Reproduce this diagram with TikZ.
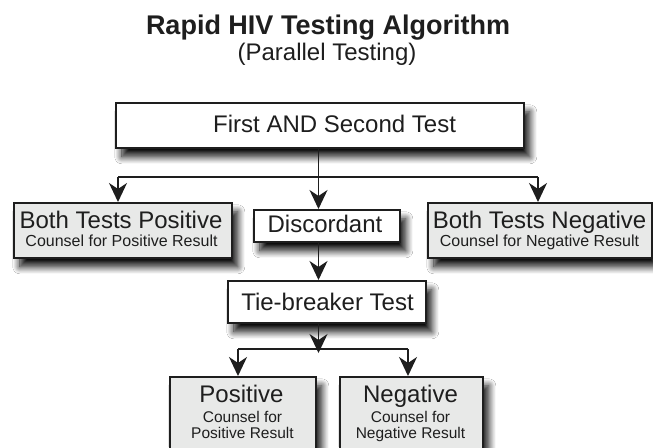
\documentclass[tikz,border=0pt]{standalone}
\usepackage{fontspec}
\setmainfont{Liberation Sans}
\usetikzlibrary{arrows.meta,shadows.blur}
\definecolor{ink}{HTML}{1E1E1E}
\definecolor{boxgray}{HTML}{E8E9E8}
\tikzset{
  boxw/.style={draw=ink, line width=1.6pt, fill=white, inner sep=0pt, anchor=north west,
    blur shadow={shadow xshift=6pt, shadow yshift=-9pt, shadow blur radius=7pt, shadow blur steps=14, shadow opacity=95}},
  boxg/.style={boxw, fill=boxgray},
  conn/.style={draw=ink, line width=1.3pt},
  arr/.style={conn, -{Stealth[length=19pt,width=18pt,inset=6pt]}},
  txt/.style={text=ink, inner sep=0pt, anchor=base},
  big/.style={txt, font=\fontsize{24}{28}\selectfont},
  small/.style={txt, font=\fontsize{16}{18}\selectfont},
  smaller/.style={txt, font=\fontsize{15.5}{18}\selectfont},
}
\begin{document}
\begin{tikzpicture}[x=1pt,y=-1pt]
\useasboundingbox[fill=white] (0,0) rectangle (653,447);
% titles
\node[txt, font=\fontsize{27}{30}\selectfont\bfseries] (title) at (328,34) {Rapid HIV Testing Algorithm};
\node[txt, font=\fontsize{24}{28}\selectfont] (subtitle) at (327,60) {(Parallel Testing)};
% boxes
\node[boxw, minimum width=408pt, minimum height=45pt] (top) at (115,102) {};
\node[boxg, minimum width=218pt, minimum height=55pt] (bpos) at (13,202) {};
\node[boxw, minimum width=146pt, minimum height=32pt] (disc) at (253,209) {};
\node[boxg, minimum width=224pt, minimum height=55pt] (bneg) at (427,202) {};
\node[boxw, minimum width=198pt, minimum height=42pt] (tie) at (227,280) {};
\node[boxg, minimum width=146pt, minimum height=80pt] (rpos) at (169,376) {};
\node[boxg, minimum width=143pt, minimum height=80pt] (rneg) at (339,376) {};
% texts
\node[big, anchor=base west] (ttop) at (213,132) {First AND Second Test};
\node[big] (tbpos) at (121,228) {Both Tests Positive};
\node[small] (cbpos) at (121.5,246) {Counsel for Positive Result};
\node[big] (tdisc) at (325,232) {Discordant};
\node[big] (tbneg) at (539.5,228) {Both Tests Negative};
\node[small] (cbneg) at (539.5,246) {Counsel for Negative Result};
\node[big] (ttie) at (327.5,310) {Tie-breaker Test};
\node[big] (trpos) at (241.5,402) {Positive};
\node[smaller] (crpos1) at (242.5,422) {Counsel for};
\node[smaller] (crpos2) at (242.5,438) {Positive Result};
\node[big] (trneg) at (410.5,402) {Negative};
\node[smaller] (crneg1) at (410.5,422) {Counsel for};
\node[smaller] (crneg2) at (410.5,438) {Negative Result};
% connectors
\coordinate (jA) at (318.5,177);
\coordinate (jL) at (118,177);
\coordinate (jR) at (538,177);
\draw[conn] (jA |- top.south) -- (jA);
\draw[conn] (jL) -- (jR);
\draw[arr] (jL) -- (jL |- bpos.north);
\draw[arr] (jA) -- (jA |- disc.north);
\draw[arr] (jR) -- (jR |- bneg.north);
\draw[arr] (jA |- disc.south) -- (jA |- tie.north);
\coordinate (jB) at (318.5,349);
\coordinate (jBL) at (238,349);
\coordinate (jBR) at (408,349);
\draw[arr] (jB |- tie.south) -- ([yshift=-4pt]jB);
\draw[conn] (jBL) -- (jBR);
\draw[arr] (jBL) -- (jBL |- rpos.north);
\draw[arr] (jBR) -- (jBR |- rneg.north);
\end{tikzpicture}
\end{document}
